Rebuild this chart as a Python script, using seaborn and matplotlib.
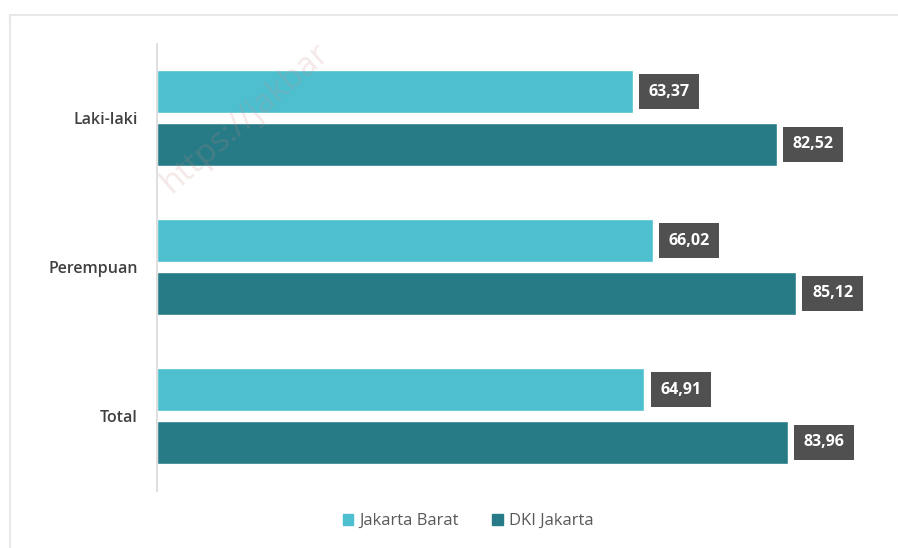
import matplotlib
matplotlib.use("Agg")
import matplotlib.pyplot as plt
from matplotlib.patches import Rectangle
import seaborn as sns
import pandas as pd

# ── Data ───────────────────────────────────────────────────────────────────────
categories = ["Laki-laki", "Perempuan", "Total"]
jakarta_barat = [63.37, 66.02, 64.91]
dki_jakarta = [82.52, 85.12, 83.96]
series_names = ["Jakarta Barat", "DKI Jakarta"]

df = pd.DataFrame({
    "kategori": categories * 2,
    "wilayah": [series_names[0]] * 3 + [series_names[1]] * 3,
    "nilai": jakarta_barat + dki_jakarta,
})

# ── Style ──────────────────────────────────────────────────────────────────────
sns.set_style("white")
plt.rcParams["font.family"] = ["Open Sans", "DejaVu Sans"]

palette = {"Jakarta Barat": "#4DBFCF", "DKI Jakarta": "#267B86"}

fig = plt.figure(figsize=(8.98, 5.48), dpi=100)
W, H = 898, 548
ax = fig.add_axes([157 / W, 1 - 490.5 / H, (890 - 157) / W, 447 / H])

sns.barplot(
    data=df, y="kategori", x="nilai", hue="wilayah",
    order=categories, hue_order=series_names,
    palette=palette, orient="h", width=0.71, gap=0.18,
    saturation=1, legend=False, ax=ax,
)

ax.set_xlim(0, 97.6)
ax.set_xlabel("")
ax.set_ylabel("")
ax.set_xticks([])
for s in ["top", "right", "bottom"]:
    ax.spines[s].set_visible(False)
ax.spines["left"].set_color("#D9D9D9")
ax.spines["left"].set_linewidth(1.2)
ax.tick_params(axis="y", length=0, pad=14, labelsize=11.5, labelcolor="#404040")
for lbl in ax.get_yticklabels():
    lbl.set_fontweight("semibold")

# value labels in dark boxes
for cont in ax.containers:
    for bar in cont:
        v = bar.get_width()
        yc = bar.get_y() + bar.get_height() / 2
        ax.text(v + 2.1, yc, f"{v:.2f}".replace(".", ","),
                ha="left", va="center", color="white",
                fontsize=11.5, fontweight="bold",
                bbox=dict(boxstyle="square,pad=0.6", fc="#505050", ec="none"))

# legend
handles = [Rectangle((0, 0), 1, 1, color=palette[n]) for n in series_names]
fig.legend(handles, series_names, loc="center",
           bbox_to_anchor=(468 / W, 1 - 521 / H), ncol=2, frameon=False,
           handlelength=0.65, handleheight=0.65, handletextpad=0.35,
           columnspacing=2.0, labelcolor="#595959", fontsize=12)

# light outer frame (cropped chart border)
fig.patches.append(Rectangle((10 / W, -0.1), 1.2, 1 - 15 / H + 0.1,
                             transform=fig.transFigure, fill=False,
                             ec="#E8E8E8", lw=1.5))

# faint watermark
fig.text(176 / W, 1 - 200 / H, "https://jakbar",
         rotation=41, rotation_mode="anchor", ha="left", va="bottom",
         fontsize=24, color="#C88A8A", alpha=0.2)

fig.savefig("out.png", dpi=100)
